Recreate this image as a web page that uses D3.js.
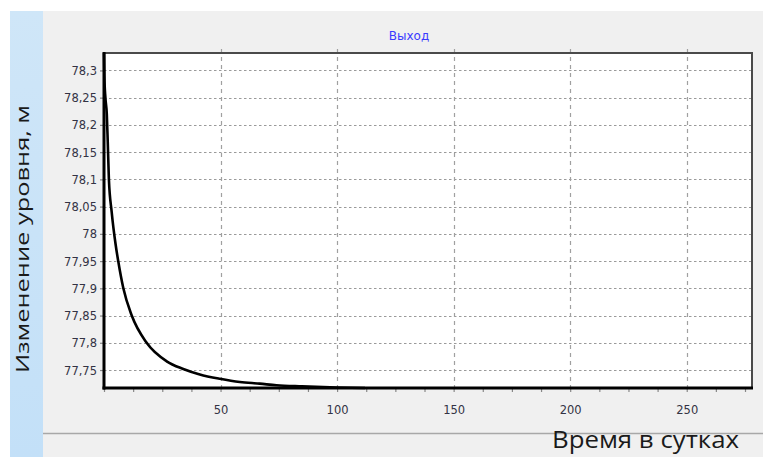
<!DOCTYPE html>
<html><head><meta charset="utf-8">
<script src="https://cdn.jsdelivr.net/npm/d3@7"></script>
<style>
html,body{margin:0;padding:0;background:#fff;}
svg{display:block;}
</style></head>
<body>
<svg id="c" width="763" height="457"></svg>
<script>
// ---- data ----
const days   = [0, 0.15, 0.6, 1.2, 1.6, 2.1, 3.3, 5, 6.1, 8.3, 11.9, 18.3, 26.9, 34, 41.1, 49.7, 58.3, 66.8, 74, 85, 100, 112];
const levels = [78.332, 78.29, 78.25, 78.22, 78.17, 78.10, 78.04, 77.98, 77.95, 77.90, 77.85, 77.80, 77.766, 77.752, 77.742, 77.734, 77.728, 77.725, 77.722, 77.72, 77.718, 77.717];
const xTicks = [50, 100, 150, 200, 250];
const yTicks = [77.75, 77.8, 77.85, 77.9, 77.95, 78, 78.05, 78.1, 78.15, 78.2, 78.25, 78.3];
const xMinor = d3.range(0, 278, 12.5);
const xDomain = [0, 278];
const title = "Выход";
const xLabel = "Время в сутках";
const yLabel = "Изменение уровня, м";

const svg = d3.select("#c");
const W = 763, H = 457;
const L = 104, R = 752, T = 53, B = 388;

// background panels
svg.append("rect").attr("x",0).attr("y",0).attr("width",W).attr("height",H).attr("fill","#fff");
const grad = svg.append("defs").append("linearGradient").attr("id","bg").attr("x1",0).attr("y1",0).attr("x2",0).attr("y2",1);
grad.append("stop").attr("offset","0").attr("stop-color","#cfe6f8");
grad.append("stop").attr("offset","1").attr("stop-color","#c3e0f8");
svg.append("rect").attr("x",10).attr("y",11).attr("width",33).attr("height",H-11).attr("fill","url(#bg)");
svg.append("rect").attr("x",43).attr("y",11).attr("width",W-43).attr("height",H-11).attr("fill","#f0f0f0");
svg.append("line").attr("x1",43).attr("x2",W).attr("y1",433.5).attr("y2",433.5).attr("stroke","#a8a8a8").attr("stroke-width",1.5);

const x = d3.scaleLinear().domain(xDomain).range([L, R]);
const y = d3.scaleLinear().domain(d3.extent(levels)).range([B, T]);

// plot bg
svg.append("rect").attr("x",L).attr("y",T).attr("width",R-L).attr("height",B-T).attr("fill","#fff");

// grid
svg.append("g").selectAll("line").data(yTicks).join("line")
  .attr("x1",L).attr("x2",R).attr("y1",d=>Math.round(y(d))+0.5).attr("y2",d=>Math.round(y(d))+0.5)
  .attr("stroke","#9a9a9a").attr("stroke-width",1.2).attr("stroke-dasharray","2.5,2.5");
svg.append("g").selectAll("line").data(xTicks).join("line")
  .attr("x1",d=>Math.round(x(d))+0.5).attr("x2",d=>Math.round(x(d))+0.5).attr("y1",T-4).attr("y2",B)
  .attr("stroke","#a0a0a0").attr("stroke-width",1.2).attr("stroke-dasharray","4,4");

// axes
const yAxis = d3.axisLeft(y).tickValues(yTicks).tickSize(4).tickPadding(3)
  .tickFormat(d=>d3.format("~g")(d).replace(".",","));
const gy = svg.append("g").attr("transform",`translate(${L},0)`).call(yAxis);
const xAxis = d3.axisBottom(x).tickValues(xMinor).tickSize(4).tickPadding(14)
  .tickFormat(d=> xTicks.includes(d) ? d : "");
const gx = svg.append("g").attr("transform",`translate(0,${B})`).call(xAxis);
[gy,gx].forEach(g=>{
  g.select(".domain").remove();
  g.selectAll(".tick line").attr("stroke","#888").attr("stroke-width",1.2);
  g.selectAll(".tick text").attr("fill","#333344").style("font-family","DejaVu Sans").style("font-size","11.5px");
});
gy.selectAll(".tick text").attr("dy","0.35em");

// frame
svg.append("rect").attr("x",L).attr("y",T).attr("width",R-L).attr("height",B-T)
  .attr("fill","none").attr("stroke","#4a4a4a").attr("stroke-width",2);
svg.append("line").attr("x1",L).attr("x2",L).attr("y1",T-1).attr("y2",B+1.5).attr("stroke","#000").attr("stroke-width",3);
svg.append("line").attr("x1",L-1.5).attr("x2",R+1).attr("y1",B).attr("y2",B).attr("stroke","#000").attr("stroke-width",3);

// curve
svg.append("path").datum(days.map((d,i)=>[d,levels[i]]))
  .attr("fill","none").attr("stroke","#000").attr("stroke-width",2.6).attr("stroke-linejoin","round")
  .attr("d", d3.line().x(d=>x(d[0])).y(d=>y(d[1])).curve(d3.curveMonotoneX));

// texts
svg.append("text").attr("x",409).attr("y",40).attr("text-anchor","middle")
  .attr("fill","#3a3aff").style("font-family","DejaVu Sans").style("font-size","12px").text(title);
svg.append("text").attr("x",552).attr("y",447.5)
  .attr("textLength",187).attr("lengthAdjust","spacingAndGlyphs")
  .attr("fill","#1a1a1a").style("font-family","Open Sans").style("font-size","24px").text(xLabel);
svg.append("text").attr("transform","translate(29,373) rotate(-90)")
  .attr("textLength",268).attr("lengthAdjust","spacingAndGlyphs")
  .attr("fill","#1a1a1a").style("font-family","Open Sans").style("font-size","19px").text(yLabel);
</script>
</body></html>
